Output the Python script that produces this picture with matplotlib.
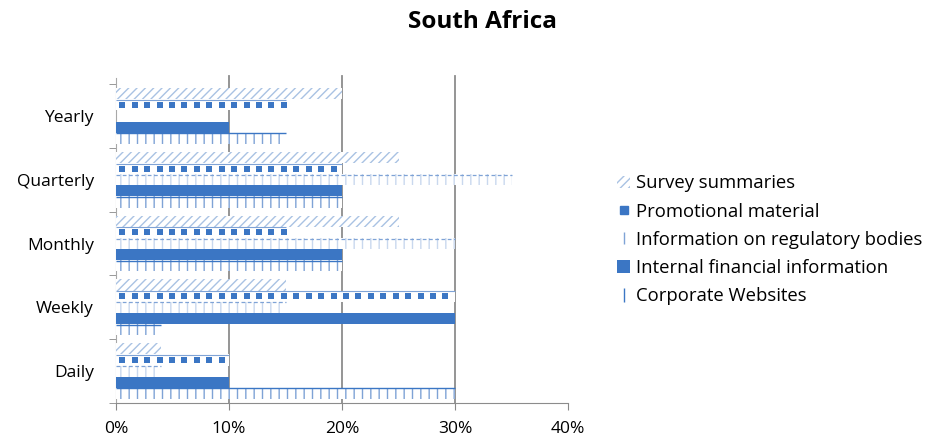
import numpy as np
import matplotlib
matplotlib.use("Agg")
import matplotlib.pyplot as plt
from matplotlib.patches import Patch
from matplotlib.lines import Line2D

plt.rcParams['font.family'] = ['Open Sans', 'DejaVu Sans']
plt.rcParams['hatch.linewidth'] = 1.0

# Frequency categories, bottom to top as drawn
categories = ['Daily', 'Weekly', 'Monthly', 'Quarterly', 'Yearly']

# Percent of respondents per information source
survey_summaries = [4, 15, 25, 25, 20]
promotional_material = [10, 30, 15, 20, 15]
regulatory_bodies = [4, 15, 30, 35, 0]
internal_financial = [10, 30, 20, 20, 10]
corporate_websites = [30, 4, 20, 20, 15]

series_names = ['Survey summaries', 'Promotional material',
                'Information on regulatory bodies',
                'Internal financial information', 'Corporate Websites']

blue = '#3b76c4'
light = '#a9c2e3'
mid = '#7fa3d6'

fig = plt.figure(figsize=(9.31, 4.4), dpi=100)
ax = fig.add_axes([0.1246, 0.084, 0.4855, 0.725])

y = np.arange(len(categories))
h = 0.175
offs = [2 * h, h, 0, -h, -2 * h]   # survey on top of each group

# Survey summaries: light diagonal hatch
ax.barh(y + offs[0], survey_summaries, height=h, facecolor='white',
        edgecolor=light, hatch='////', linewidth=0, zorder=3)

# Promotional material: row of blue squares under a thin line
ax.barh(y + offs[1], promotional_material, height=h, facecolor='white',
        linewidth=0, zorder=3)
ax.hlines(y + offs[1] + h * 0.45, 0, promotional_material, color=mid,
          linewidth=0.8, zorder=4)
for yi, v in zip(y, promotional_material):
    xs = np.arange(0.55, v, 1.1)
    ax.scatter(xs, np.full(len(xs), yi + offs[1]), marker='s', s=16,
               color=blue, linewidths=0, zorder=4)

# Information on regulatory bodies: dashed line with faint ticks
ax.barh(y + offs[2], regulatory_bodies, height=h, facecolor='white',
        edgecolor='#c9d8ee', hatch='||', linewidth=0, zorder=3)
ax.hlines(y + offs[2] + h * 0.45, 0, regulatory_bodies, color=mid,
          linewidth=0.9, linestyles=(0, (3, 2)), zorder=4)

# Internal financial information: solid blue
ax.barh(y + offs[3], internal_financial, height=h, facecolor=blue,
        linewidth=0, zorder=3)

# Corporate Websites: line with ticks hanging below
ax.barh(y + offs[4], corporate_websites, height=h, facecolor='white',
        edgecolor=mid, hatch='||', linewidth=0, zorder=3)
ax.hlines(y + offs[4] + h * 0.45, 0, corporate_websites, color=blue,
          linewidth=1.0, zorder=4)

ax.set_xlim(0, 40)
ax.set_ylim(-0.5, len(categories) - 0.5)
ax.set_xticks([0, 10, 20, 30, 40])
ax.set_xticklabels(['0%', '10%', '20%', '30%', '40%'], fontsize=12.5)
ax.set_yticks(y)
ax.set_yticklabels(categories, fontsize=12.5)
ax.tick_params(axis='y', length=0, pad=16)
ax.tick_params(axis='x', length=5, color='#888888', pad=8)
ax.set_yticks(np.arange(len(categories) + 1) - 0.5, minor=True)
ax.tick_params(axis='y', which='minor', length=5, color='#888888')

for gx in [10, 20, 30]:
    ax.axvline(gx, ymax=1.025, color='#8c8c8c', linewidth=1.3, zorder=1,
               clip_on=False)

for s in ['top', 'right']:
    ax.spines[s].set_visible(False)
ax.spines['left'].set_color('#a8a8a8')
ax.spines['left'].set_bounds(-0.5, len(categories) - 0.4)
ax.spines['bottom'].set_color('#8c8c8c')

fig.text(0.518, 0.95, 'South Africa', ha='center', va='center',
         fontsize=17.5, fontweight='bold')

handles = [
    Patch(facecolor='white', edgecolor=light, hatch='////', linewidth=0),
    Line2D([], [], marker='s', linestyle='none', color=blue, markersize=6),
    Line2D([], [], marker='|', linestyle='none', color=mid, markersize=8),
    Patch(facecolor=blue, linewidth=0),
    Line2D([], [], marker='|', linestyle='none', color=blue, markersize=10),
]
fig.legend(handles=handles, labels=series_names, loc='center left',
           bbox_to_anchor=(0.645, 0.455), frameon=False, fontsize=13.3,
           handlelength=0.7, handleheight=0.7, handletextpad=0.3,
           labelspacing=0.55)

fig.savefig('out.png', dpi=100)
